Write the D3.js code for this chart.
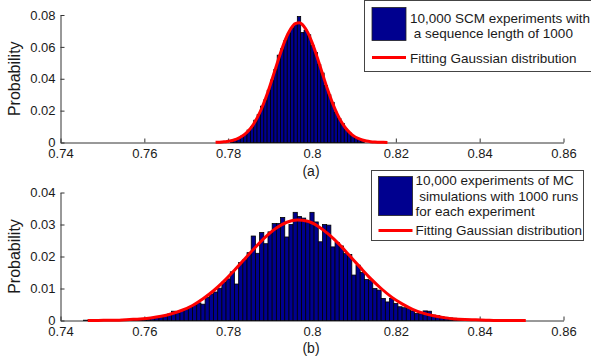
<!DOCTYPE html>
<html>
<head>
<meta charset="UTF-8">
<script src="https://d3js.org/d3.v7.min.js"></script>
<style>
  body { margin: 0; background: #fff; }
  svg { display: block; font-family: Arial, "Liberation Sans", sans-serif; }
  .leg { white-space: pre; }
</style>
</head>
<body>
<div id="chart"></div>
<script>
// shared x axis
const xTicks = [0.74, 0.76, 0.78, 0.80, 0.82, 0.84, 0.86];
const xTickLabels = ["0.74", "0.76", "0.78", "0.8", "0.82", "0.84", "0.86"];

// (a) SCM experiments
const topBinStart = 0.7805, topBinWidth = 0.0008;
const topBars = [0.0010, 0.0018, 0.0025, 0.0040, 0.0050, 0.0078, 0.0098, 0.0140, 0.0175, 0.0228,
  0.0268, 0.0328, 0.0392, 0.0458, 0.0548, 0.0588, 0.0640, 0.0686, 0.0720, 0.0740,
  0.0790, 0.0690, 0.0705, 0.0676, 0.0610, 0.0565, 0.0490, 0.0436, 0.0358, 0.0300,
  0.0252, 0.0190, 0.0150, 0.0120, 0.0084, 0.0062, 0.0045, 0.0032, 0.0020, 0.0013];
const topCurveX = [0.777, 0.778, 0.779, 0.780, 0.781, 0.782, 0.783, 0.784, 0.785, 0.786,
  0.787, 0.788, 0.789, 0.790, 0.791, 0.792, 0.793, 0.794, 0.795, 0.796,
  0.797, 0.798, 0.799, 0.800, 0.801, 0.802, 0.803, 0.804, 0.805, 0.806,
  0.807, 0.808, 0.809, 0.810, 0.811, 0.812, 0.813, 0.814, 0.815, 0.816, 0.817, 0.818];
const topCurveY = [0.0001, 0.0002, 0.0004, 0.0008, 0.0013, 0.0021, 0.0034, 0.0052, 0.0078, 0.0113,
  0.0159, 0.0215, 0.0282, 0.0358, 0.0440, 0.0522, 0.0600, 0.0667, 0.0717, 0.0746,
  0.0751, 0.0731, 0.0689, 0.0628, 0.0554, 0.0473, 0.0390, 0.0312, 0.0241, 0.0180,
  0.0130, 0.0091, 0.0062, 0.0040, 0.0026, 0.0016, 0.0009, 0.0005, 0.0003, 0.0002, 0.0001, 0.0000];
const topYTicks = [0, 0.02, 0.04, 0.06, 0.08];
const topYTickLabels = ["0", "0.02", "0.04", "0.06", "0.08"];
const topLegendText = ["10,000 SCM experiments with", " a sequence length of 1000"];

// (b) MC simulations
const botBinStart = 0.7455, botBinWidth = 0.001;
const botBars = [0.0001, 0.0001, 0.0001, 0.0001, 0.0001, 0.0001, 0.0001, 0.0001, 0.0001, 0.0001,
  0.0001, 0.0001, 0.0002, 0.0005, 0.0003, 0.0005, 0.0007, 0.0010, 0.0012, 0.0015,
  0.0020, 0.0029, 0.0024, 0.0030, 0.0034, 0.0042, 0.0048, 0.0055, 0.0051, 0.0072,
  0.0083, 0.0089, 0.0101, 0.0120, 0.0130, 0.0152, 0.0114, 0.0181, 0.0190, 0.0212,
  0.0264, 0.0210, 0.0275, 0.0240, 0.0277, 0.0303, 0.0303, 0.0322, 0.0261, 0.0300,
  0.0338, 0.0325, 0.0320, 0.0310, 0.0338, 0.0308, 0.0246, 0.0300, 0.0298, 0.0230,
  0.0244, 0.0233, 0.0209, 0.0206, 0.0142, 0.0173, 0.0150, 0.0128, 0.0126, 0.0100,
  0.0095, 0.0069, 0.0058, 0.0069, 0.0053, 0.0043, 0.0040, 0.0037, 0.0030, 0.0022,
  0.0021, 0.0030, 0.0029, 0.0017, 0.0015, 0.0012, 0.0010, 0.0008, 0.0007, 0.0004,
  0.0003, 0.0002, 0.0002, 0.0001, 0.0001, 0.0001, 0.0001, 0.0001, 0.0001, 0.0001,
  0.0001, 0.0001, 0.0001, 0.0001, 0.0001];
const botCurveX = [0.7465, 0.7490, 0.7515, 0.7540, 0.7565, 0.7590, 0.7615, 0.7640, 0.7665, 0.7690,
  0.7715, 0.7740, 0.7765, 0.7790, 0.7815, 0.7840, 0.7865, 0.7890, 0.7915, 0.7940,
  0.7965, 0.7990, 0.8015, 0.8040, 0.8065, 0.8090, 0.8115, 0.8140, 0.8165, 0.8190,
  0.8215, 0.8240, 0.8265, 0.8290, 0.8315, 0.8340, 0.8365, 0.8390, 0.8415, 0.8440,
  0.8465, 0.8490, 0.8510];
const botCurveY = [0.0000, 0.0000, 0.0001, 0.0001, 0.0003, 0.0005, 0.0008, 0.0013, 0.0021, 0.0032,
  0.0047, 0.0068, 0.0093, 0.0123, 0.0157, 0.0193, 0.0229, 0.0262, 0.0289, 0.0307,
  0.0314, 0.0310, 0.0294, 0.0269, 0.0238, 0.0202, 0.0166, 0.0131, 0.0100, 0.0073,
  0.0052, 0.0035, 0.0023, 0.0015, 0.0009, 0.0005, 0.0003, 0.0002, 0.0001, 0.0000,
  0.0000, 0.0000, 0.0000];
const botYTicks = [0, 0.01, 0.02, 0.03, 0.04];
const botYTickLabels = ["0", "0.01", "0.02", "0.03", "0.04"];
const botLegendText = ["10,000 experiments of MC", " simulations with 1000 runs", "for each experiment"];

const fitLabel = "Fitting Gaussian distribution";
const barColor = "#00008f";
const lineColor = "#ff0000";

const svg = d3.select("#chart").append("svg").attr("width", 591).attr("height", 362);

const x = d3.scaleLinear().domain([0.74, 0.86]).range([60.5, 563.5]);

function panel(p) {
  const y = d3.scaleLinear().domain(p.yDomain).range([p.yBottom, p.yTop]);
  const g = svg.append("g");

  // axes (box off, ticks pointing inward)
  const ax = g.append("g")
    .attr("transform", `translate(0,${p.yBottom})`)
    .call(d3.axisBottom(x).tickValues(xTicks).tickFormat((d, i) => xTickLabels[i])
      .tickSizeInner(-4).tickSizeOuter(0).tickPadding(6));
  const ay = g.append("g")
    .attr("transform", `translate(${x(0.74)},0)`)
    .call(d3.axisLeft(y).tickValues(p.yTicks).tickFormat((d, i) => p.yTickLabels[i])
      .tickSizeInner(-4).tickSizeOuter(0).tickPadding(5));
  [ax, ay].forEach(a => {
    a.attr("font-family", null).attr("font-size", 13);
    a.selectAll("path, line").attr("stroke", "#333");
    a.selectAll("text").attr("fill", "#1a1a1a");
  });

  // histogram
  g.append("g").selectAll("rect").data(p.bars).join("rect")
    .attr("x", (d, i) => x(p.binStart + i * p.binWidth))
    .attr("width", x(p.binStart + p.binWidth) - x(p.binStart))
    .attr("y", d => y(d))
    .attr("height", d => y(0) - y(d))
    .attr("fill", barColor)
    .attr("stroke", "#000")
    .attr("stroke-width", 0.8);

  // fitted gaussian
  const line = d3.line().x(d => x(d[0])).y(d => y(d[1])).curve(d3.curveMonotoneX);
  g.append("path").datum(p.curveX.map((v, i) => [v, p.curveY[i]]))
    .attr("d", line).attr("fill", "none").attr("stroke", lineColor).attr("stroke-width", 3);

  // labels
  g.append("text").attr("transform", `translate(19.5,${(p.yTop + p.yBottom) / 2}) rotate(-90)`)
    .attr("text-anchor", "middle").attr("font-size", 16).attr("fill", "#1a1a1a").text("Probability");
  g.append("text").attr("x", 311).attr("y", p.subY).attr("text-anchor", "middle")
    .attr("font-size", 14).attr("fill", "#1a1a1a").text(p.sub);

  // legend
  const L = p.legend;
  g.append("rect").attr("x", L.x).attr("y", L.y).attr("width", L.w).attr("height", L.h)
    .attr("fill", "#fff").attr("stroke", "#444");
  g.append("rect").attr("x", L.px).attr("y", L.py).attr("width", 34).attr("height", L.ph)
    .attr("fill", barColor).attr("stroke", "#222").attr("stroke-width", 0.8);
  g.append("g").selectAll("text").data(p.legendText).join("text")
    .attr("class", "leg")
    .attr("x", L.tx).attr("y", (d, i) => L.ty + i * L.lh)
    .attr("font-size", 13.5).attr("fill", "#1a1a1a").text(d => d);
  g.append("line").attr("x1", L.px).attr("x2", L.px + 34).attr("y1", L.ly).attr("y2", L.ly)
    .attr("stroke", lineColor).attr("stroke-width", 3);
  g.append("text").attr("x", L.tx).attr("y", L.fy)
    .attr("font-size", 13.5).attr("fill", "#1a1a1a").text(fitLabel);
}

panel({
  yDomain: [0, 0.08], yBottom: 142.5, yTop: 15,
  yTicks: topYTicks, yTickLabels: topYTickLabels,
  bars: topBars, binStart: topBinStart, binWidth: topBinWidth,
  curveX: topCurveX, curveY: topCurveY,
  sub: "(a)", subY: 175.5,
  legendText: topLegendText,
  legend: { x: 364.5, y: 0.5, w: 230, h: 71, px: 372, py: 7.5, ph: 33, tx: 410, ty: 22.5, lh: 15, ly: 57.5, fy: 63 }
});

panel({
  yDomain: [0, 0.04], yBottom: 320.5, yTop: 192.5,
  yTicks: botYTicks, yTickLabels: botYTickLabels,
  bars: botBars, binStart: botBinStart, binWidth: botBinWidth,
  curveX: botCurveX, curveY: botCurveY,
  sub: "(b)", subY: 352.5,
  legendText: botLegendText,
  legend: { x: 371.5, y: 170.5, w: 212, h: 70, px: 378.5, py: 176.5, ph: 39, tx: 415.5, ty: 185, lh: 15.5, ly: 230.5, fy: 235 }
});
</script>
</body>
</html>
